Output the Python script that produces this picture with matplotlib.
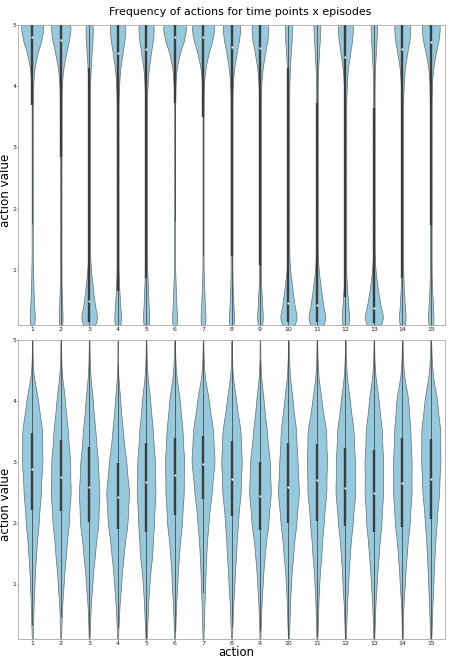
import numpy as np
import pandas as pd
import matplotlib
matplotlib.use("Agg")
import matplotlib.pyplot as plt
import seaborn as sns

actions = list(range(1, 16))

# value levels the counts are read at (action values live in [0.1, 5])
top_levels = [0.1, 0.25, 0.5, 0.75, 1.0, 1.25, 1.5, 1.75, 2.0, 2.25, 2.5,
              2.75, 3.0, 3.25, 3.5, 3.75, 4.0, 4.25, 4.5, 4.75, 5.0]
bottom_levels = [0.1, 0.5, 1.0, 1.5, 2.0, 2.5, 3.0, 3.5, 4.0, 4.5, 5.0]

# --- top panel: counts per level, one row per action ---
top_counts = [
    [5, 8, 6, 4, 3, 2, 2, 2, 2, 2, 2, 2, 2, 2, 2, 2, 3, 6, 16, 32, 44],
    [4, 6, 5, 3, 3, 3, 3, 3, 3, 3, 3, 3, 3, 3, 3, 3, 4, 8, 18, 30, 40],
    [14, 26, 18, 12, 6, 3, 3, 3, 3, 3, 3, 3, 3, 3, 3, 3, 3, 5, 8, 12, 14],
    [6, 11, 8, 5, 3, 3, 3, 3, 3, 3, 3, 3, 3, 3, 3, 3, 5, 8, 16, 24, 30],
    [6, 10, 8, 6, 4, 3, 3, 3, 3, 3, 3, 3, 3, 3, 3, 3, 5, 8, 16, 24, 30],
    [5, 8, 6, 4, 2, 2, 2, 2, 2, 2, 2, 2, 2, 2, 2, 2, 3, 6, 16, 34, 46],
    [5, 8, 6, 4, 2, 2, 2, 2, 2, 2, 2, 2, 2, 2, 2, 2, 3, 7, 18, 34, 46],
    [5, 8, 6, 4, 3, 3, 3, 3, 3, 3, 3, 3, 3, 3, 3, 3, 4, 8, 16, 26, 34],
    [5, 9, 7, 4, 3, 3, 3, 3, 3, 3, 3, 3, 3, 3, 3, 3, 4, 8, 16, 26, 32],
    [15, 28, 20, 13, 6, 3, 3, 3, 3, 3, 3, 3, 3, 3, 3, 3, 3, 5, 8, 12, 14],
    [15, 28, 20, 13, 6, 3, 3, 3, 3, 3, 3, 3, 3, 3, 3, 3, 3, 4, 7, 10, 14],
    [7, 12, 9, 5, 3, 3, 3, 3, 3, 3, 3, 3, 3, 3, 3, 3, 5, 8, 16, 24, 30],
    [17, 32, 22, 13, 6, 3, 3, 3, 3, 3, 3, 3, 3, 3, 3, 3, 3, 4, 7, 10, 14],
    [6, 11, 8, 5, 3, 3, 3, 3, 3, 3, 3, 3, 3, 3, 3, 3, 5, 8, 16, 26, 32],
    [5, 9, 7, 4, 3, 3, 3, 3, 3, 3, 3, 3, 3, 3, 3, 3, 4, 7, 16, 28, 36],
]
top_q1 = [3.7, 2.85, 0.15, 0.65, 0.87, 3.72, 3.5, 1.22, 1.08, 0.15, 0.15, 0.55, 0.13, 0.87, 1.74]
top_med = [4.8, 4.75, 0.5, 4.54, 4.6, 4.8, 4.8, 4.64, 4.62, 0.46, 0.42, 4.48, 0.38, 4.6, 4.72]
top_q3 = [5.0, 5.0, 4.3, 5.0, 5.0, 5.0, 5.0, 5.0, 5.0, 4.3, 3.72, 5.0, 3.64, 5.0, 5.0]

# --- bottom panel ---
bottom_counts = [
    [1, 4, 8, 14, 24, 32, 38, 38, 22, 2, 1],
    [1, 4, 12, 22, 34, 42, 40, 30, 18, 3, 1],
    [1, 4, 12, 22, 36, 40, 34, 24, 14, 3, 1],
    [1, 6, 16, 28, 46, 54, 40, 24, 12, 1, 1],
    [1, 6, 12, 24, 30, 36, 34, 26, 16, 3, 1],
    [1, 4, 10, 16, 28, 34, 36, 30, 20, 4, 1],
    [1, 4, 8, 12, 20, 32, 44, 38, 22, 3, 1],
    [1, 4, 10, 16, 22, 32, 36, 32, 16, 2, 1],
    [1, 4, 10, 18, 32, 42, 38, 26, 14, 2, 1],
    [1, 4, 8, 16, 26, 36, 30, 26, 14, 3, 1],
    [1, 4, 8, 16, 24, 34, 36, 34, 16, 3, 1],
    [1, 4, 10, 16, 26, 36, 34, 30, 16, 3, 1],
    [1, 4, 10, 18, 28, 34, 34, 30, 18, 3, 1],
    [1, 2, 8, 14, 24, 30, 30, 26, 20, 3, 1],
    [1, 4, 8, 12, 18, 26, 30, 30, 20, 4, 1],
]
bottom_q1 = [2.22, 2.2, 2.01, 1.9, 1.86, 2.13, 2.4, 2.12, 1.89, 2.0, 2.04, 1.96, 1.86, 1.94, 2.06]
bottom_med = [2.89, 2.75, 2.59, 2.43, 2.67, 2.78, 2.96, 2.72, 2.44, 2.59, 2.70, 2.57, 2.5, 2.65, 2.72]
bottom_q3 = [3.48, 3.36, 3.25, 2.98, 3.31, 3.4, 3.43, 3.34, 3.0, 3.32, 3.3, 3.23, 3.2, 3.39, 3.37]

VMIN, VMAX = 0.1, 5.0
BOX_COLOR = "#3d3d3d"


def to_long(levels, counts):
    parts = []
    for a, c in zip(actions, counts):
        parts.append(pd.DataFrame({"action": a, "value": np.repeat(levels, c)}))
    return pd.concat(parts, ignore_index=True)


def fixed_bw(bw):
    # constant kernel width in data units, whatever the spread of the samples
    return lambda kde: bw / kde.dataset.std()


def draw_panel(ax, levels, counts, q1, med, q3, bw):
    df = to_long(levels, counts)
    sns.violinplot(data=df, x="action", y="value", color="skyblue", inner=None,
                   cut=0, density_norm="area", bw_method=fixed_bw(bw),
                   width=0.8, linewidth=0.5, linecolor="#6a6a6a", ax=ax)
    q1, med, q3 = np.array(q1), np.array(med), np.array(q3)
    iqr = q3 - q1
    lo = np.maximum(VMIN, q1 - 1.5 * iqr)
    hi = np.minimum(VMAX, q3 + 1.5 * iqr)
    pos = np.arange(len(actions))
    ax.vlines(pos, lo, hi, color="#4a4a4a", lw=0.6, zorder=3)
    ax.vlines(pos, q1, q3, color=BOX_COLOR, lw=1.7, zorder=3)
    ax.scatter(pos, med, s=2.5, color="white", edgecolor="#9a9a9a",
               linewidth=0.2, zorder=4)
    ax.set_ylim(VMIN, VMAX)
    ax.set_xlim(-0.5, len(actions) - 0.5)
    ax.set_yticks([1, 2, 3, 4, 5])
    ax.tick_params(labelsize=4.5, length=0.8, width=0.4, pad=0.3,
                   colors="#222222")
    for sp in ax.spines.values():
        sp.set_color("#aaaaaa")
        sp.set_linewidth(0.6)
    ax.set_ylabel("action value", fontsize=8.6)
    ax.yaxis.set_label_coords(-0.0135, 0.45)


fig = plt.figure(figsize=(4.54, 6.58), dpi=100)
ax_top = fig.add_axes([18 / 454, 1 - 325 / 658, 427 / 454, 300 / 658])
ax_bot = fig.add_axes([18 / 454, 1 - 639 / 658, 427 / 454, 299 / 658])

draw_panel(ax_top, top_levels, top_counts, top_q1, top_med, top_q3, 0.13)
draw_panel(ax_bot, bottom_levels, bottom_counts, bottom_q1, bottom_med, bottom_q3, 0.25)

ax_top.set_xlabel("")
ax_bot.set_xlabel("action", fontsize=8.4)
ax_bot.xaxis.set_label_coords(0.51, -0.025)

fig.text(0.529, 0.982, "Frequency of actions for time points x episodes",
         ha="center", va="center", fontsize=7.9)

fig.savefig("out.png", dpi=100)
